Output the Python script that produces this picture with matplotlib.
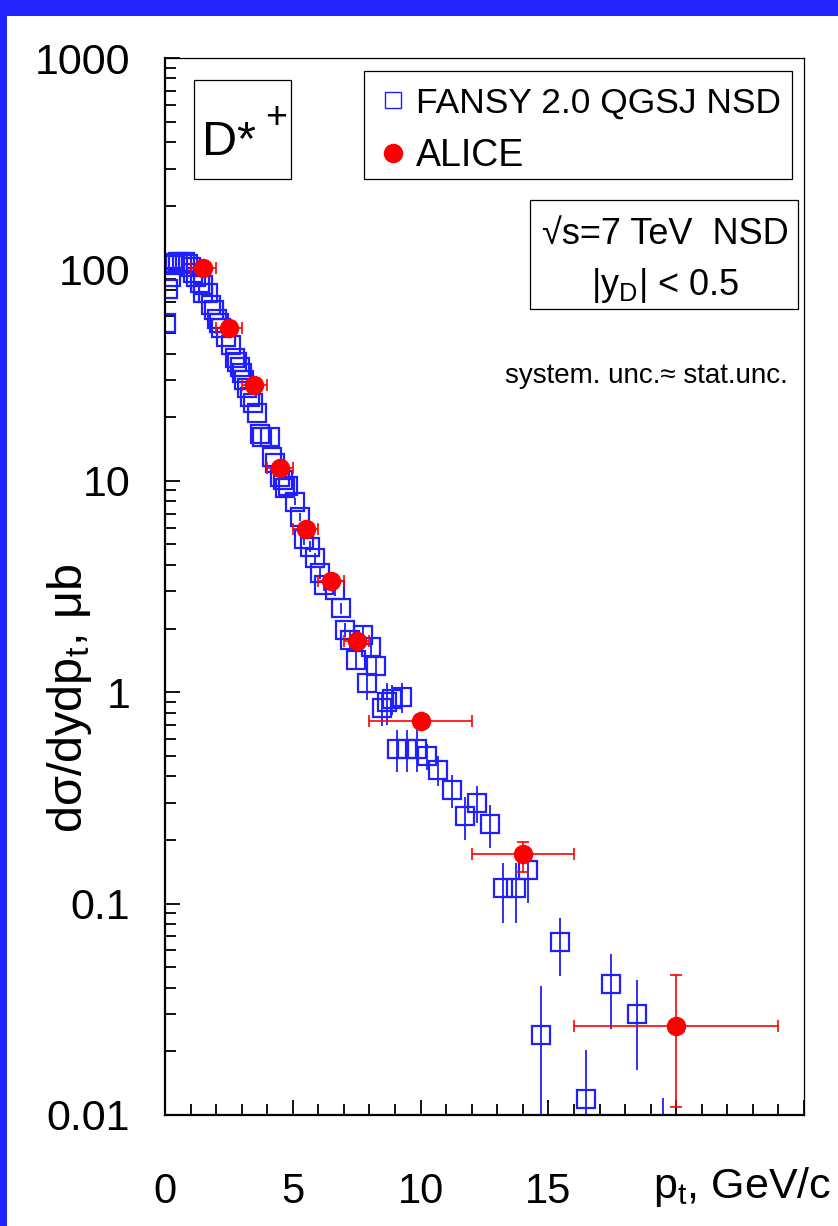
import matplotlib
matplotlib.use("Agg")
import matplotlib.pyplot as plt
from matplotlib.patches import Rectangle
from matplotlib.lines import Line2D
from matplotlib.ticker import FixedLocator, NullFormatter

W, H = 838, 1226

plt.rcParams['font.family'] = ['Liberation Sans', 'DejaVu Sans']
plt.rcParams['mathtext.fontset'] = 'custom'
plt.rcParams['mathtext.rm'] = 'Liberation Sans'
plt.rcParams['mathtext.it'] = 'Liberation Sans:italic'
plt.rcParams['mathtext.bf'] = 'Liberation Sans:bold'

# FANSY 2.0 QGSJ NSD model points
fansy_pt = [0.03, 0.12, 0.22, 0.30, 0.40, 0.50, 0.67, 0.80, 0.90, 1.00,
            1.10, 1.20, 1.35, 1.47, 1.50, 1.70, 1.80, 1.93, 2.02, 2.10,
            2.20, 2.39, 2.60, 2.74, 2.83, 2.93, 3.00, 3.10, 3.20, 3.33,
            3.43, 3.60, 3.70, 3.80, 4.10, 4.20, 4.30, 4.50, 4.63, 4.70,
            4.80, 5.07, 5.28, 5.45, 5.67, 5.87, 6.06, 6.22, 6.65, 6.87,
            7.04, 7.24, 7.47, 7.76, 7.89, 8.05, 8.25, 8.48, 8.67, 8.87,
            9.06, 9.28, 9.45, 9.84, 10.24, 10.70, 11.24, 11.72, 12.19, 12.71,
            13.21, 13.73, 14.21, 14.70, 15.45, 16.47, 17.45, 18.47, 19.50]
fansy_val = [55.6, 80.5, 91.8, 105, 107, 108, 108, 108, 106, 103,
             96, 92, 86, 84, 77, 77, 68, 64, 58, 55.6,
             53, 48, 44, 38, 36.4, 34.5, 32.2, 30, 27.4, 25,
             23.3, 20.9, 16.7, 16.2, 16.2, 13.0, 12.1, 10.4, 10.1, 9.2,
             9.4, 7.96, 6.77, 5.29, 4.88, 4.30, 3.65, 3.21, 3.04, 2.49,
             1.97, 1.77, 1.42, 1.87, 1.10, 1.64, 1.33, 0.84, 0.90, 0.93,
             0.54, 0.95, 0.54, 0.54, 0.50, 0.43, 0.344, 0.26, 0.30, 0.238,
             0.118, 0.118, 0.144, 0.0239, 0.0656, 0.0119, 0.0415, 0.0299, 0.006]
fansy_err = [0, 0, 0, 0, 0, 0, 0, 0, 0, 0,
             0, 0, 0, 0, 0, 0, 0, 0, 0, 0,
             0, 0, 0, 0, 0, 0, 0, 0, 0, 0,
             0, 0, 0, 0, 0, 0, 0, 0, 0, 0,
             0, 0.3, 0.3, 0.3, 0.3, 0.25, 0.2, 0.2, 0.2, 0.15,
             0.15, 0.15, 0.15, 0.2, 0.18, 0.18, 0.15, 0.15, 0.2, 0.15,
             0.12, 0.15, 0.12, 0.12, 0.07, 0.07, 0.06, 0.06, 0.06, 0.055,
             0.037, 0.037, 0.043, 0.017, 0.02, 0.0084, 0.016, 0.0135, 0.006]

# ALICE D*+ measurement
alice_pt = [1.5, 2.5, 3.5, 4.5, 5.5, 6.5, 7.5, 10, 14, 20]
alice_ptw = [0.5, 0.5, 0.5, 0.5, 0.5, 0.5, 0.5, 2, 2, 4]
alice_val = [101.6, 52.8, 28.4, 11.5, 5.9, 3.36, 1.75, 0.73, 0.172, 0.0265]
alice_err_lo = [6, 3, 1.7, 0.7, 0.35, 0.2, 0.1, 0.05, 0.031, 0.0156]
alice_err_hi = [6, 3, 1.7, 0.7, 0.35, 0.2, 0.1, 0.05, 0.023, 0.0196]

y_ticks = [0.01, 0.1, 1, 10, 100, 1000]
y_labels = ['0.01', '0.1', '1', '10', '100', '1000']
x_ticks = [0, 5, 10, 15, 20, 25]
x_labels = ['0', '5', '10', '15', '', '']


def fx(px):
    return px / W


def fy(py):
    return 1 - py / H


blue = '#1f1fff'
red = '#ff0000'

fig = plt.figure(figsize=(W / 100, H / 100), dpi=100)
fig.patch.set_facecolor('#2323ff')
fig.add_artist(Rectangle((fx(7), 0), 1, fy(16), transform=fig.transFigure,
                         facecolor='white', edgecolor='none', zorder=0))

ax = fig.add_axes([fx(165), fy(1115), fx(804) - fx(165), fy(58) - fy(1115)])
ax.set_yscale('log')
ax.set_xlim(0, 25)
ax.set_ylim(0.01, 1000)

ax.errorbar(fansy_pt, fansy_val, yerr=fansy_err, fmt='s', ms=12.3,
            mfc='none', mec=blue, mew=1.6, ecolor=blue, elinewidth=1.3,
            capsize=0, zorder=2)
ax.errorbar(alice_pt, alice_val, xerr=alice_ptw,
            yerr=[alice_err_lo, alice_err_hi], fmt='o', ms=13,
            mfc=red, mec=red, ecolor=red, elinewidth=1.2, capsize=4.5,
            capthick=1.2, zorder=3)

# axes frame: thick left/bottom, thin top/right
for s in ['left', 'bottom']:
    ax.spines[s].set_linewidth(1.6)
for s in ['top', 'right']:
    ax.spines[s].set_linewidth(0.9)

ax.yaxis.set_major_locator(FixedLocator(y_ticks))
ax.set_yticklabels(y_labels)
ax.yaxis.set_minor_locator(FixedLocator(
    [m * 10.0 ** e for e in range(-2, 3) for m in range(2, 10)]))
ax.yaxis.set_minor_formatter(NullFormatter())
ax.set_xticks(x_ticks)
ax.set_xticklabels(x_labels)
ax.set_xticks(range(0, 26), minor=True)

ax.tick_params(axis='y', which='major', direction='in', length=11, width=1.3,
               labelsize=31, pad=25)
ax.tick_params(axis='y', which='minor', direction='in', length=8, width=1.3)
ax.tick_params(axis='x', which='major', direction='in', length=11, width=1.3,
               labelsize=30, pad=41)
ax.tick_params(axis='x', which='minor', direction='in', length=8, width=1.3)

# axis titles
fig.text(fx(831), fy(1198), r'p$_{\mathrm{t}}$, GeV/c', fontsize=31,
         ha='right', va='baseline')
fig.text(fx(82), fy(698), r'd$\mathrm{\sigma}$/dydp$_{\mathrm{t}}$, $\mathrm{\mu}$b',
         fontsize=35, rotation=90, rotation_mode='anchor',
         ha='center', va='baseline')

# particle label box
fig.add_artist(Rectangle((fx(194), fy(179)), fx(291) - fx(194), fy(80) - fy(179),
                         transform=fig.transFigure, facecolor='white',
                         edgecolor='black', lw=0.9, zorder=5))
fig.text(fx(202), fy(155), 'D*', fontsize=35, ha='left', va='baseline', zorder=6)
fig.text(fx(276.5), fy(128), '+', fontsize=27, ha='center', va='baseline', zorder=6)

# legend box
fig.add_artist(Rectangle((fx(364), fy(179)), fx(792) - fx(364), fy(71) - fy(179),
                         transform=fig.transFigure, facecolor='white',
                         edgecolor='black', lw=0.9, zorder=5))
fig.add_artist(Line2D([fx(393)], [fy(100)], marker='s', ms=11, mfc='none',
                      mec=blue, mew=1.0, transform=fig.transFigure, zorder=6))
fig.add_artist(Line2D([fx(393)], [fy(153)], marker='o', ms=13, mfc=red,
                      mec=red, transform=fig.transFigure, zorder=6))
fig.text(fx(416), fy(112.5), 'FANSY 2.0 QGSJ NSD', fontsize=25.5,
         ha='left', va='baseline', zorder=6)
fig.text(fx(416), fy(166), 'ALICE', fontsize=27, ha='left', va='baseline', zorder=6)

# energy / rapidity box
fig.add_artist(Rectangle((fx(530), fy(309)), fx(798) - fx(530), fy(200) - fy(309),
                         transform=fig.transFigure, facecolor='white',
                         edgecolor='black', lw=0.9, zorder=5))
fig.text(fx(665), fy(244), '\u221as=7 TeV  NSD', fontsize=26,
         ha='center', va='baseline', zorder=6)
fig.text(fx(665), fy(295), r'|y$_{\mathrm{D}}$| < 0.5', fontsize=26,
         ha='center', va='baseline', zorder=6)

fig.text(fx(788), fy(383), 'system. unc.\u2248 stat.unc.', fontsize=20,
         ha='right', va='baseline', zorder=6)

fig.savefig('out.png', dpi=100, facecolor=fig.get_facecolor())
